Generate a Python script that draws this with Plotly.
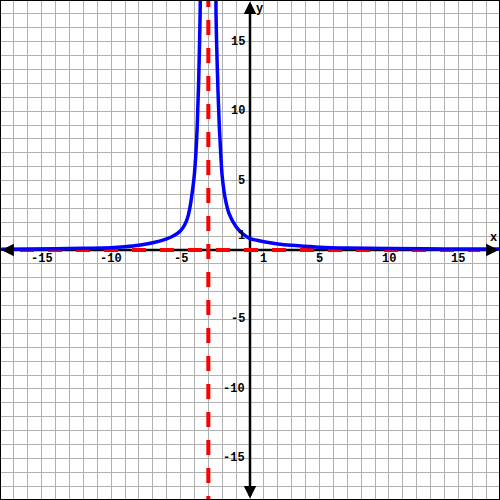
import plotly.graph_objects as go

# ---- data ----
left_x = [-18, -16, -14, -12, -10, -9, -8, -7, -6, -5.5, -5, -4.7, -4.5, -4.3, -4.1, -4.0, -3.9, -3.8, -3.7, -3.6, -3.56]
left_y = [0.06, 0.07, 0.09, 0.12, 0.16, 0.23, 0.34, 0.52, 0.8, 1.02, 1.38, 1.82, 2.3, 3.2, 4.6, 5.5, 6.9, 8.9, 12.0, 16.5, 19.0]
right_x = [-2.43, -2.45, -2.3, -2.2, -2.1, -2.0, -1.8, -1.5, -1.0, -0.5, 0, 0.5, 1, 2, 3, 4, 5, 7, 10, 14, 18]
right_y = [19.0, 17.5, 11.3, 8.7, 6.8, 5.3, 3.8, 2.6, 1.68, 1.15, 0.82, 0.7, 0.6, 0.44, 0.34, 0.27, 0.2, 0.14, 0.1, 0.08, 0.07]

vert_asym_x = -3
horiz_asym_y = 0
horiz_asym_span = [-16.56, 16.56]

x_tick_vals = [-15, -10, -5, 1, 5, 10, 15]
x_tick_text = ["-15", "-10", "-5", "1", "5", "10", "15"]
y_tick_vals = [15, 10, 5, 1, -5, -10, -15]
y_tick_text = ["15", "10", "5", "1", "-5", "-10", "-15"]

RANGE = [-18, 18]
FONT = "Liberation Mono"

fig = go.Figure()

# axes lines (drawn as traces so they sit under the asymptotes / curve)
fig.add_trace(go.Scatter(x=[RANGE[0] + 0.3, RANGE[1] - 0.3], y=[0, 0], mode="lines",
                         line=dict(color="black", width=2.5), hoverinfo="skip", showlegend=False))
fig.add_trace(go.Scatter(x=[0, 0], y=[RANGE[0] + 0.3, RANGE[1] - 0.3], mode="lines",
                         line=dict(color="black", width=2.5), hoverinfo="skip", showlegend=False))

# asymptotes
fig.add_trace(go.Scatter(x=horiz_asym_span, y=[horiz_asym_y, horiz_asym_y], mode="lines",
                         line=dict(color="#ff0000", width=4, dash="14px,14px"),
                         hoverinfo="skip", showlegend=False))
fig.add_trace(go.Scatter(x=[vert_asym_x, vert_asym_x], y=[18.58, -18.5], mode="lines",
                         line=dict(color="#ff0000", width=4, dash="15px,13px"),
                         hoverinfo="skip", showlegend=False))

# curve
fig.add_trace(go.Scatter(x=left_x, y=left_y, mode="lines",
                         line=dict(color="#0000ff", width=3.5, shape="spline", smoothing=1.0),
                         hoverinfo="skip", showlegend=False))
fig.add_trace(go.Scatter(x=right_x, y=right_y, mode="lines",
                         line=dict(color="#0000ff", width=3.5, shape="spline", smoothing=1.0),
                         hoverinfo="skip", showlegend=False))

annotations = []
# arrowheads
for tip, tail in [((RANGE[0] + 0.1, 0), (RANGE[0] + 1.0, 0)),
                  ((RANGE[1] - 0.1, 0), (RANGE[1] - 1.0, 0)),
                  ((0, RANGE[1] - 0.1), (0, RANGE[1] - 1.0)),
                  ((0, RANGE[0] + 0.1), (0, RANGE[0] + 1.0))]:
    annotations.append(dict(x=tip[0], y=tip[1], ax=tail[0], ay=tail[1], xref="x", yref="y",
                            axref="x", ayref="y", showarrow=True, arrowhead=2, arrowsize=1.0,
                            arrowwidth=2.5, arrowcolor="black", text=""))

for v, t in zip(x_tick_vals, x_tick_text):
    annotations.append(dict(x=v, y=0, xref="x", yref="y", text="<b>%s</b>" % t, showarrow=False,
                            xanchor="center", yanchor="middle", yshift=-9,
                            font=dict(family=FONT, size=12, color="black")))
for v, t in zip(y_tick_vals, y_tick_text):
    annotations.append(dict(x=0, y=v, xref="x", yref="y", text="<b>%s</b>" % t, showarrow=False,
                            xanchor="right", yanchor="middle", xshift=-3,
                            font=dict(family=FONT, size=12, color="black")))

annotations.append(dict(x=RANGE[1], y=0, xref="x", yref="y", text="<b>x</b>", showarrow=False,
                        xanchor="right", yanchor="middle", xshift=-1, yshift=12,
                        font=dict(family=FONT, size=12, color="black")))
annotations.append(dict(x=0, y=RANGE[1], xref="x", yref="y", text="<b>y</b>", showarrow=False,
                        xanchor="left", yanchor="middle", xshift=4, yshift=-9,
                        font=dict(family=FONT, size=12, color="black")))

fig.update_layout(
    width=500, height=500,
    margin=dict(l=0, r=0, t=0, b=0),
    plot_bgcolor="white", paper_bgcolor="white",
    xaxis=dict(range=RANGE, dtick=1, tick0=0, showgrid=True, gridcolor="#b0b0b0", gridwidth=1,
               zeroline=False, showticklabels=False, ticks="", fixedrange=True),
    yaxis=dict(range=RANGE, dtick=1, tick0=0, showgrid=True, gridcolor="#b0b0b0", gridwidth=1,
               zeroline=False, showticklabels=False, ticks="", fixedrange=True),
    annotations=annotations,
    hovermode=False,
    shapes=[dict(type="rect", xref="paper", yref="paper", x0=0, y0=0, x1=1, y1=1,
                 line=dict(color="black", width=2))],
)

fig.write_html("out.html", config={"displayModeBar": False, "staticPlot": True},
               post_script="document.body.style.margin='0';document.body.style.padding='0';")
